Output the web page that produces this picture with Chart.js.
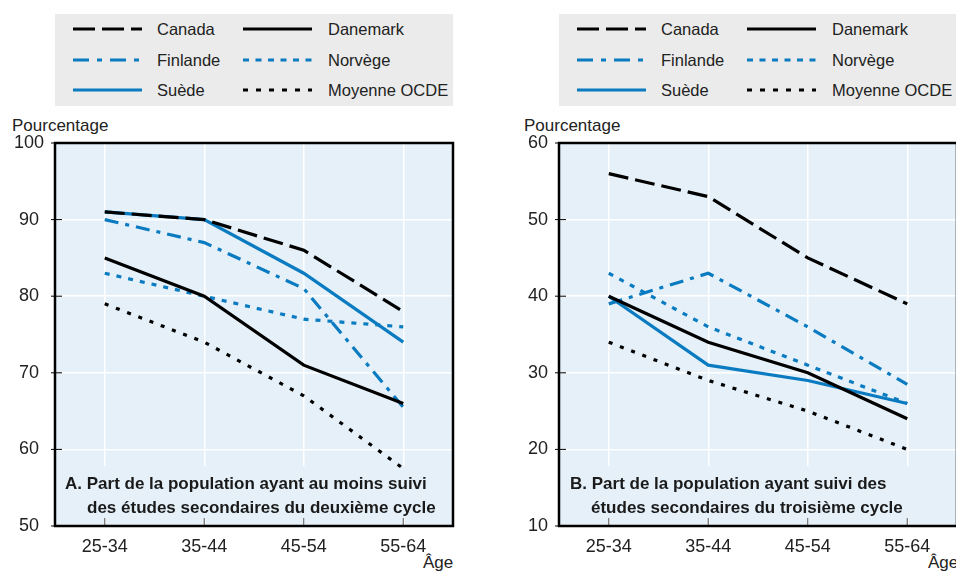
<!DOCTYPE html>
<html>
<head>
<meta charset="utf-8">
<script src="https://cdn.jsdelivr.net/npm/chart.js@4.4.1/dist/chart.umd.min.js"></script>
<style>
  body { margin: 0; width: 956px; height: 571px; overflow: hidden; background: #fff; position: relative;
         font-family: 'Liberation Sans', Arial, sans-serif; color: #222; }
  .legend { position: absolute; top: 14px; height: 92px; background: #ebebeb; }
  .item { position: absolute; height: 20px; line-height: 20px; font-size: 16.5px; white-space: nowrap; }
  .item svg { position: absolute; left: 0; top: 8px; }
  .item span { position: absolute; }
  .lbl { position: absolute; font-size: 17px; white-space: nowrap; }
  canvas { position: absolute; }
</style>
</head>
<body>
<div class="legend" id="legA" style="left:55px;width:398px"></div>
<div class="legend" id="legB" style="left:559px;width:400px"></div>
<div class="lbl" style="left:12px;top:116px">Pourcentage</div>
<div class="lbl" style="left:524px;top:116px">Pourcentage</div>
<div class="lbl" style="left:423px;top:553px">Âge</div>
<div class="lbl" style="left:928px;top:553px">Âge</div>
<div style="position:absolute;left:0;top:110px;width:480px;height:461px"><canvas id="chartA"></canvas></div>
<div style="position:absolute;left:504px;top:110px;width:460px;height:461px"><canvas id="chartB"></canvas></div>
<script>
const ages = ['25-34', '35-44', '45-54', '55-64'];
const countries = ['Canada', 'Danemark', 'Finlande', 'Norvège', 'Suède', 'Moyenne OCDE'];

// Panel A : au moins deuxième cycle du secondaire
const canadaA   = [91, 90, 86, 78];
const danemarkA = [85, 80, 71, 66];
const finlandeA = [90, 87, 81, 65.5];
const norvegeA  = [83, 80, 77, 76];
const suedeA    = [91, 90, 83, 74];
const ocdeA     = [79, 74, 67, 57.5];
const ticksA = [50, 60, 70, 80, 90, 100];

// Panel B : troisième cycle
const canadaB   = [56, 53, 45, 39];
const danemarkB = [40, 34, 30, 24];
const finlandeB = [39, 43, 36, 28.5];
const norvegeB  = [43, 36, 31, 26];
const suedeB    = [40, 31, 29, 26];
const ocdeB     = [34, 29, 25, 20];
const ticksB = [10, 20, 30, 40, 50, 60];

const titleA = ['A. Part de la population ayant au moins suivi', 'des études secondaires du deuxième cycle'];
const titleB = ['B. Part de la population ayant suivi des', 'études secondaires du troisième cycle'];

const BLUE = '#0a7bc1';
const BG = '#e5f0f8';
const FONT = "'Liberation Sans', Arial, sans-serif";

const styles = [
  { color: '#000', dash: [20, 7] },
  { color: '#000', dash: [] },
  { color: BLUE, dash: [14, 7, 4, 7] },
  { color: BLUE, dash: [5, 7] },
  { color: BLUE, dash: [] },
  { color: '#000', dash: [4, 8] },
];
const legendDash = [[22, 7], [], [16, 8, 5, 8], [6, 6.5], [], [5, 8]];

function buildLegend(id) {
  const el = document.getElementById(id);
  const cols = [{ line: 18, text: 102 }, { line: 188, text: 273 }];
  countries.forEach((name, i) => {
    const col = cols[i % 2];
    const row = Math.floor(i / 2);
    const top = 15 + row * 30.5 - 10;
    const d = document.createElement('div');
    d.className = 'item';
    d.style.left = col.line + 'px';
    d.style.top = top + 'px';
    const s = styles[i];
    d.innerHTML = `<svg width="70" height="4"><line x1="0" y1="2" x2="69" y2="2" stroke="${s.color}" stroke-width="3.2" stroke-dasharray="${legendDash[i].join(' ') || 'none'}"/></svg><span style="left:${col.text - col.line}px">${name}</span>`;
    el.appendChild(d);
  });
}
buildLegend('legA');
buildLegend('legB');

const panelPlugin = {
  id: 'panel',
  beforeDatasetsDraw(chart, args, opts) {
    const { ctx, chartArea: a } = chart;
    ctx.save();
    ctx.fillStyle = BG;
    ctx.fillRect(a.left + 4, a.bottom - 60, a.right - a.left - 20, 52);
    ctx.fillStyle = '#1a1a1a';
    ctx.font = `bold 17px ${FONT}`;
    ctx.textBaseline = 'alphabetic';
    ctx.fillText(opts.lines[0], a.left + opts.x1, a.bottom - 37);
    ctx.fillText(opts.lines[1], a.left + opts.x2, a.bottom - 13);
    ctx.restore();
  },
  afterDraw(chart) {
    const { ctx, chartArea: a, scales } = chart;
    ctx.save();
    ctx.strokeStyle = '#555';
    ctx.lineWidth = 1;
    scales.x.ticks.forEach((t, i) => {
      const x = scales.x.getPixelForTick(i);
      ctx.beginPath(); ctx.moveTo(x, a.bottom); ctx.lineTo(x, a.bottom - 8); ctx.stroke();
    });
    scales.y.ticks.forEach((t, i) => {
      const y = scales.y.getPixelForTick(i);
      ctx.strokeStyle = '#000';
      ctx.beginPath(); ctx.moveTo(a.left - 4, y); ctx.lineTo(a.left + 7, y); ctx.stroke();
    });
    ctx.strokeStyle = '#000';
    ctx.lineWidth = 2.5;
    ctx.strokeRect(a.left, a.top, a.right - a.left, a.bottom - a.top);
    ctx.restore();
  }
};

function makeChart(id, series, ticks, title, x1, x2, padRight) {
  new Chart(document.getElementById(id), {
    type: 'line',
    data: {
      labels: ages,
      datasets: series.map((vals, i) => ({
        label: countries[i],
        data: vals,
        borderColor: styles[i].color,
        borderDash: styles[i].dash,
        borderWidth: 3.2,
        pointRadius: 0,
        tension: 0,
        fill: false,
      })),
    },
    options: {
      animation: false,
      responsive: true,
      maintainAspectRatio: false,
      layout: { padding: { top: 33, right: padRight, left: 0, bottom: 0 } },
      plugins: {
        legend: { display: false },
        tooltip: { enabled: false },
        panel: { lines: title, x1: x1, x2: x2 },
      },
      scales: {
        x: {
          offset: true,
          grid: { color: '#fff', lineWidth: 1.5, drawTicks: false },
          border: { display: false },
          ticks: { color: '#222', font: { family: FONT, size: 18 }, padding: 10 },
          afterFit: s => { s.height = 45; },
        },
        y: {
          min: ticks[0],
          max: ticks[ticks.length - 1],
          afterBuildTicks: s => { s.ticks = ticks.map(v => ({ value: v })); },
          grid: { color: '#fff', lineWidth: 1.5, drawTicks: false },
          border: { display: false },
          ticks: { color: '#222', font: { family: FONT, size: 18 }, padding: 11, crossAlign: 'center' },
          afterFit: s => { s.width = 55; },
        },
      },
    },
    plugins: [
      panelPlugin,
      { id: 'bg', beforeDraw(c) { const a = c.chartArea; c.ctx.save(); c.ctx.fillStyle = BG; c.ctx.fillRect(a.left, a.top, a.right - a.left, a.bottom - a.top); c.ctx.restore(); } },
    ],
  });
}

makeChart('chartA', [canadaA, danemarkA, finlandeA, norvegeA, suedeA, ocdeA], ticksA, titleA, 10, 32, 27);
makeChart('chartB', [canadaB, danemarkB, finlandeB, norvegeB, suedeB, ocdeB], ticksB, titleB, 11, 32, 7);
</script>
</body>
</html>
